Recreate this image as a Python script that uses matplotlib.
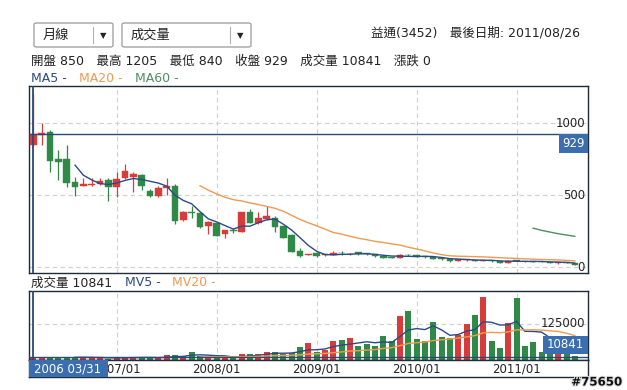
import matplotlib
matplotlib.use('Agg')
import matplotlib.pyplot as plt
import numpy as np
import pandas as pd
from matplotlib.patches import FancyBboxPatch, Rectangle
import matplotlib.transforms as mtransforms
import matplotlib.patheffects as pe

plt.rcParams['font.family'] = ['DejaVu Sans', 'Noto Sans CJK TC']

# ---------------- data ----------------
months = pd.period_range('2006-03', '2011-08', freq='M')
opens = [850, 922, 942, 752, 752, 592, 565, 570, 580, 606, 560, 620, 628, 641, 532, 495, 548, 565, 328, 386,
         380, 285, 310, 228, 258, 247, 385, 308, 335, 345, 287, 224, 110, 87, 102, 82, 84, 98, 90, 104,
         93, 90, 78, 70, 67, 85, 85, 72, 69, 67, 60, 46, 48, 50, 44, 46, 42, 33, 45, 44,
         42, 40, 37, 28, 34, 28]
highs = [1205, 1000, 955, 815, 849, 629, 618, 620, 618, 618, 664, 717, 665, 645, 545, 565, 618, 576, 390, 425,
         385, 320, 315, 262, 270, 386, 405, 382, 428, 356, 290, 228, 135, 95, 104, 95, 110, 110, 100, 106,
         96, 92, 80, 72, 92, 90, 88, 75, 72, 68, 62, 58, 58, 52, 50, 48, 44, 48, 48, 46,
         44, 41, 38, 38, 36, 30]
lows = [840, 850, 664, 606, 556, 495, 562, 565, 572, 463, 490, 612, 525, 537, 490, 490, 500, 300, 320, 340,
        275, 231, 215, 201, 240, 245, 305, 300, 330, 247, 200, 105, 69, 85, 72, 80, 82, 88, 88, 88,
        88, 72, 62, 64, 65, 80, 70, 66, 58, 54, 40, 44, 46, 44, 42, 40, 30, 31, 42, 40,
        38, 34, 27, 26, 28, 15]
closes = [929, 930, 740, 729, 588, 560, 580, 578, 600, 556, 613, 669, 645, 565, 495, 550, 566, 324, 386, 378,
          278, 315, 219, 259, 255, 384, 310, 342, 358, 282, 204, 108, 78, 91, 75, 92, 96, 96, 95, 91,
          91, 75, 66, 68, 88, 83, 72, 70, 60, 56, 42, 56, 55, 46, 46, 42, 32, 46, 43, 42,
          40, 35, 28, 36, 30, 18]
volumes = [10841, 8000, 8000, 8000, 11000, 11000, 9000, 6000, 6000, 5000, 11000, 11000, 8000, 8000, 6000, 8000,
           17000, 17000, 13700, 27400, 13700, 11000, 8000, 11000, 8000, 20500, 20500, 20500, 27400, 27400,
           20500, 24000, 43500, 59000, 28500, 34000, 65000, 68500, 76000, 48000, 55000, 48000, 82000, 66000,
           150000, 168000, 72000, 65000, 130000, 80000, 76000, 85600, 123000, 154000, 217000, 65000, 40000,
           125600, 213000, 48000, 62700, 28500, 30000, 22000, 25000, 12000]
year_ticks = ['2007/01', '2008/01', '2009/01', '2010/01', '2011/01']
price_ticks = [0, 500, 1000]
volume_ticks = [125000]
stock_name = '益通(3452)'
last_date = '2011/08/26'
hover = 0
hover_label = '2006 03/31'

# ---------------- helpers ----------------
W, H = 627, 390
def fx(x):
    return x / W
def fy(y):
    return 1 - y / H

RED = '#d93b3b'
GREEN = '#2f8a47'
NAVY = '#2b4a86'
ORANGE = '#ef9a52'
MAGREEN = '#4f8f62'
CROSS = '#2c4a74'
BORDER = '#1e2b3a'
GRID = '#cfcfcf'
BOXBLUE = '#3a6eb0'
FS = 8.5
HFS = 9

o = np.array(opens, float); h = np.array(highs, float)
l = np.array(lows, float); c = np.array(closes, float)
v = np.array(volumes, float)
n = len(months)
idx = np.arange(n)
up = c >= o
cols = np.where(up, RED, GREEN)

cs = pd.Series(c)
def ma(series, k):
    m = series.rolling(k).mean().to_numpy()
    m[:k] = np.nan
    return m
ma5, ma20, ma60 = ma(cs, 5), ma(cs, 20), ma(cs, 60)
vs = pd.Series(v)
mv5, mv20 = ma(vs, 5), ma(vs, 20)

fig = plt.figure(figsize=(6.27, 3.90), dpi=100)
fig.patch.set_facecolor('white')

XL = (-0.53, 66.58)
ticks_pos = [list(months.strftime('%Y/%m')).index(t) for t in year_ticks]

# ---------------- main price panel ----------------
ax = fig.add_axes([fx(29), fy(273), fx(588) - fx(29), fy(86) - fy(273)])
ax.set_xlim(*XL)
ax.set_ylim(-39.6, 1259)
ax.set_xticks([]); ax.set_yticks([])
for s in ax.spines.values():
    s.set_color(BORDER); s.set_linewidth(1.0)
for tp in ticks_pos:
    ax.axvline(tp, color=GRID, lw=0.8, ls=(0, (4, 3)), zorder=0)
for pt in price_ticks:
    ax.axhline(pt, color=GRID, lw=0.8, ls=(0, (4, 3)), zorder=0)

ax.vlines(idx, l, h, colors=cols, lw=0.9, zorder=2)
body_h = np.maximum(np.abs(c - o), 5)
ax.bar(idx, body_h, bottom=np.minimum(o, c), width=0.78, color=cols, edgecolor=cols, lw=0.3, zorder=3)

ax.plot(idx, ma5, color=NAVY, lw=1.0, zorder=4)
ax.plot(idx, ma20, color=ORANGE, lw=1.0, zorder=4)
ax.plot(idx, ma60, color=MAGREEN, lw=1.0, zorder=4)

# crosshair
ax.axvline(hover, color=CROSS, lw=1.3, zorder=5)
ax.axhline(c[hover], color=CROSS, lw=1.0, zorder=5)

trans = mtransforms.blended_transform_factory(ax.transAxes, ax.transData)
xr = (585 - 29) / (588 - 29)
for pt in price_ticks:
    ax.text(xr, pt, f'{pt}', transform=trans, ha='right', va='center', fontsize=FS, color='#222222', zorder=6)
# hover price label
fig.patches.append(Rectangle((fx(559), fy(153)), fx(588) - fx(559), fy(134) - fy(153),
                             transform=fig.transFigure, facecolor=BOXBLUE, edgecolor='none', zorder=7))
fig.text(fx(573.5), fy(143.5), f'{int(c[hover])}', color='white', ha='center', va='center', fontsize=FS, zorder=8)

# ---------------- volume panel ----------------
vx = fig.add_axes([fx(29), fy(360), fx(588) - fx(29), fy(291) - fy(360)])
vx.set_xlim(*XL)
vx.set_ylim(0, 69 * 3425)
vx.set_xticks([]); vx.set_yticks([])
for s in vx.spines.values():
    s.set_color(BORDER); s.set_linewidth(1.0)
for tp in ticks_pos:
    vx.axvline(tp, color=GRID, lw=0.8, ls=(0, (4, 3)), zorder=0)
for vt in volume_ticks:
    vx.axhline(vt, color=GRID, lw=0.8, ls=(0, (4, 3)), zorder=0)
vx.bar(idx, v, width=0.72, color=cols, edgecolor='none', zorder=2)
vx.plot(idx, mv5, color=NAVY, lw=1.0, zorder=4)
vx.plot(idx, mv20, color=ORANGE, lw=1.0, zorder=4)
vx.axvline(hover, color=CROSS, lw=1.3, zorder=5)
vx.axhline(v[hover], color=CROSS, lw=1.0, zorder=5)
vtrans = mtransforms.blended_transform_factory(vx.transAxes, vx.transData)
for vt in volume_ticks:
    vx.text(xr, vt, f'{vt}', transform=vtrans, ha='right', va='center', fontsize=FS, color='#222222', zorder=6)
fig.patches.append(Rectangle((fx(543), fy(354)), fx(588) - fx(543), fy(336) - fy(354),
                             transform=fig.transFigure, facecolor=BOXBLUE, edgecolor='none', zorder=7))
fig.text(fx(565.5), fy(345), f'{int(v[hover])}', color='white', ha='center', va='center', fontsize=FS, zorder=8)

# ---------------- date strip ----------------
sx = fig.add_axes([fx(29), fy(377), fx(588) - fx(29), fy(360) - fy(377)])
sx.set_xlim(*XL); sx.set_ylim(0, 1)
sx.set_xticks([]); sx.set_yticks([])
for s in sx.spines.values():
    s.set_color(BORDER); s.set_linewidth(1.0)
for tp, tl in zip(ticks_pos, year_ticks):
    sx.text(tp, 0.45, tl, ha='center', va='center', fontsize=FS, color='#222222', zorder=2)
sx.add_patch(Rectangle((0, 0), (108 - 29) / 559, 1, transform=sx.transAxes,
                       facecolor=BOXBLUE, edgecolor='none', zorder=3))
sx.text((68 - 29) / 559, 0.45, hover_label, transform=sx.transAxes, ha='center', va='center',
        fontsize=FS, color='white', zorder=4)

# ---------------- header ----------------
def dropdown(x0, x1, label, div):
    fig.patches.append(FancyBboxPatch((fx(x0), fy(47)), fx(x1) - fx(x0), fy(23) - fy(47),
                                      boxstyle='round,pad=0,rounding_size=0.004',
                                      transform=fig.transFigure, facecolor='white',
                                      edgecolor='#9a9a9a', lw=0.9))
    fig.add_artist(plt.Line2D([fx(div), fx(div)], [fy(27), fy(43)], color='#b0b0b0', lw=0.8,
                              transform=fig.transFigure))
    fig.text(fx(x0 + 9), fy(35.5), label, ha='left', va='center', fontsize=HFS + 0.5, color='#222222')
    fig.text(fx((div + x1) / 2), fy(35.5), '▼', ha='center', va='center', fontsize=6, color='#222222')

dropdown(34, 113, '月線', 93)
dropdown(122, 251, '成交量', 230)

fig.text(fx(580), fy(33), f'{stock_name}　最後日期: {last_date}', ha='right', va='center',
         fontsize=HFS, color='#222222')
info = (f'開盤 {int(o[hover])}　最高 {int(h[hover])}　最低 {int(l[hover])}　'
        f'收盤 {int(c[hover])}　成交量 {int(v[hover])}　漲跌 0')
fig.text(fx(31), fy(61), info, ha='left', va='center', fontsize=HFS, color='#222222')
fig.text(fx(31), fy(78), 'MA5 -', ha='left', va='center', fontsize=HFS, color=NAVY)
fig.text(fx(79), fy(78), 'MA20 -', ha='left', va='center', fontsize=HFS, color=ORANGE)
fig.text(fx(135), fy(78), 'MA60 -', ha='left', va='center', fontsize=HFS, color=MAGREEN)

fig.text(fx(31), fy(283), f'成交量 {int(v[hover])}', ha='left', va='center', fontsize=HFS, color='#222222')
fig.text(fx(125), fy(283), 'MV5 -', ha='left', va='center', fontsize=HFS, color=NAVY)
fig.text(fx(172), fy(283), 'MV20 -', ha='left', va='center', fontsize=HFS, color=ORANGE)

fig.text(fx(622), fy(382), '#75650', ha='right', va='center', fontsize=8.5, color='#111111',
         fontweight='bold', path_effects=[pe.withStroke(linewidth=1.5, foreground='#dddddd')])

fig.savefig('out.png', dpi=100, facecolor='white')
